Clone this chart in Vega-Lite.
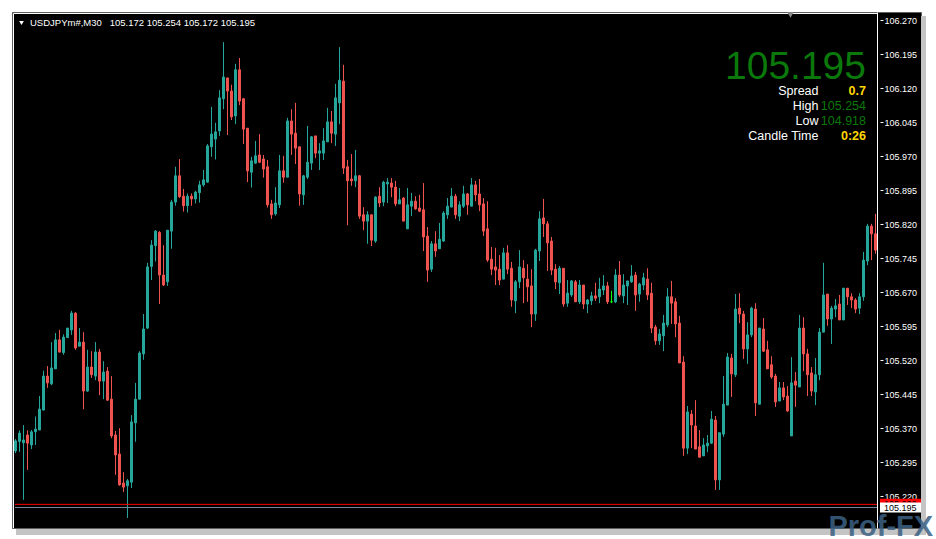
{
  "$schema": "https://vega.github.io/schema/vega-lite/v6.json",
  "width": 909,
  "height": 516,
  "autosize": "none",
  "padding": {"left": 12, "top": 12, "right": 15, "bottom": 11},
  "background": "#ffffff",
  "config": {
    "view": {"fill": "#000000", "stroke": "#5e5e5e", "strokeWidth": 1},
    "font": "Liberation Sans",
    "scale": {"continuousPadding": 0}
  },
  "resolve": {"axis": {"y": "independent", "x": "independent"}},
  "datasets": {
    "candles": [
      {"i":0,"o":105.320,"h":105.346,"l":105.315,"c":105.342},
      {"i":1,"o":105.341,"h":105.365,"l":105.318,"c":105.359},
      {"i":2,"o":105.338,"h":105.377,"l":105.212,"c":105.344},
      {"i":3,"o":105.355,"h":105.365,"l":105.278,"c":105.337},
      {"i":4,"o":105.333,"h":105.366,"l":105.324,"c":105.362},
      {"i":5,"o":105.362,"h":105.396,"l":105.333,"c":105.368},
      {"i":6,"o":105.366,"h":105.441,"l":105.366,"c":105.412},
      {"i":7,"o":105.410,"h":105.497,"l":105.410,"c":105.485},
      {"i":8,"o":105.485,"h":105.507,"l":105.459,"c":105.470},
      {"i":9,"o":105.468,"h":105.560,"l":105.465,"c":105.503},
      {"i":10,"o":105.501,"h":105.580,"l":105.501,"c":105.565},
      {"i":11,"o":105.565,"h":105.587,"l":105.538,"c":105.538},
      {"i":12,"o":105.537,"h":105.577,"l":105.532,"c":105.571},
      {"i":13,"o":105.570,"h":105.591,"l":105.570,"c":105.591},
      {"i":14,"o":105.587,"h":105.629,"l":105.576,"c":105.624},
      {"i":15,"o":105.624,"h":105.626,"l":105.543,"c":105.547},
      {"i":16,"o":105.551,"h":105.591,"l":105.551,"c":105.560},
      {"i":17,"o":105.560,"h":105.582,"l":105.412,"c":105.452},
      {"i":18,"o":105.452,"h":105.543,"l":105.450,"c":105.505},
      {"i":19,"o":105.505,"h":105.540,"l":105.481,"c":105.488},
      {"i":20,"o":105.485,"h":105.560,"l":105.476,"c":105.538},
      {"i":21,"o":105.538,"h":105.545,"l":105.443,"c":105.474},
      {"i":22,"o":105.474,"h":105.518,"l":105.434,"c":105.494},
      {"i":23,"o":105.496,"h":105.505,"l":105.430,"c":105.432},
      {"i":24,"o":105.434,"h":105.485,"l":105.348,"c":105.353},
      {"i":25,"o":105.355,"h":105.364,"l":105.267,"c":105.311},
      {"i":26,"o":105.313,"h":105.370,"l":105.243,"c":105.245},
      {"i":27,"o":105.249,"h":105.273,"l":105.229,"c":105.240},
      {"i":28,"o":105.243,"h":105.258,"l":105.172,"c":105.254},
      {"i":29,"o":105.251,"h":105.399,"l":105.238,"c":105.384},
      {"i":30,"o":105.382,"h":105.470,"l":105.340,"c":105.434},
      {"i":31,"o":105.434,"h":105.540,"l":105.434,"c":105.536},
      {"i":32,"o":105.534,"h":105.622,"l":105.521,"c":105.589},
      {"i":33,"o":105.591,"h":105.735,"l":105.589,"c":105.726},
      {"i":34,"o":105.727,"h":105.785,"l":105.697,"c":105.774},
      {"i":35,"o":105.773,"h":105.807,"l":105.738,"c":105.805},
      {"i":36,"o":105.802,"h":105.805,"l":105.644,"c":105.708},
      {"i":37,"o":105.708,"h":105.774,"l":105.684,"c":105.686},
      {"i":38,"o":105.693,"h":105.807,"l":105.684,"c":105.807},
      {"i":39,"o":105.805,"h":105.874,"l":105.766,"c":105.869},
      {"i":40,"o":105.869,"h":105.947,"l":105.861,"c":105.927},
      {"i":41,"o":105.927,"h":105.964,"l":105.878,"c":105.881},
      {"i":42,"o":105.882,"h":105.898,"l":105.848,"c":105.861},
      {"i":43,"o":105.861,"h":105.888,"l":105.846,"c":105.882},
      {"i":44,"o":105.882,"h":105.888,"l":105.861,"c":105.876},
      {"i":45,"o":105.876,"h":105.894,"l":105.866,"c":105.891},
      {"i":46,"o":105.890,"h":105.916,"l":105.868,"c":105.907},
      {"i":47,"o":105.907,"h":105.940,"l":105.903,"c":105.918},
      {"i":48,"o":105.913,"h":105.997,"l":105.912,"c":105.993},
      {"i":49,"o":105.991,"h":106.079,"l":105.969,"c":106.019},
      {"i":50,"o":106.008,"h":106.044,"l":105.963,"c":106.024},
      {"i":51,"o":106.026,"h":106.116,"l":106.015,"c":106.099},
      {"i":52,"o":106.097,"h":106.222,"l":106.074,"c":106.145},
      {"i":53,"o":106.143,"h":106.143,"l":106.017,"c":106.114},
      {"i":54,"o":106.114,"h":106.128,"l":106.050,"c":106.057},
      {"i":55,"o":106.059,"h":106.174,"l":106.041,"c":106.161},
      {"i":56,"o":106.161,"h":106.187,"l":106.083,"c":106.092},
      {"i":57,"o":106.097,"h":106.099,"l":105.997,"c":106.030},
      {"i":58,"o":106.032,"h":106.032,"l":105.913,"c":105.938},
      {"i":59,"o":105.935,"h":105.969,"l":105.901,"c":105.960},
      {"i":60,"o":105.955,"h":106.004,"l":105.953,"c":105.971},
      {"i":61,"o":105.973,"h":106.019,"l":105.955,"c":105.957},
      {"i":62,"o":105.964,"h":105.973,"l":105.923,"c":105.942},
      {"i":63,"o":105.947,"h":105.962,"l":105.857,"c":105.863},
      {"i":64,"o":105.865,"h":105.874,"l":105.832,"c":105.841},
      {"i":65,"o":105.843,"h":105.902,"l":105.839,"c":105.867},
      {"i":66,"o":105.863,"h":105.973,"l":105.856,"c":105.938},
      {"i":67,"o":105.938,"h":105.971,"l":105.912,"c":105.924},
      {"i":68,"o":105.924,"h":106.055,"l":105.924,"c":106.048},
      {"i":69,"o":106.048,"h":106.074,"l":105.973,"c":106.019},
      {"i":70,"o":106.021,"h":106.088,"l":105.953,"c":105.988},
      {"i":71,"o":105.991,"h":105.991,"l":105.861,"c":105.887},
      {"i":72,"o":105.885,"h":105.929,"l":105.863,"c":105.927},
      {"i":73,"o":105.924,"h":106.037,"l":105.920,"c":105.957},
      {"i":74,"o":105.955,"h":106.015,"l":105.940,"c":106.013},
      {"i":75,"o":106.015,"h":106.015,"l":105.966,"c":105.977},
      {"i":76,"o":105.977,"h":105.999,"l":105.940,"c":105.982},
      {"i":77,"o":105.977,"h":106.032,"l":105.962,"c":106.004},
      {"i":78,"o":106.002,"h":106.077,"l":106.002,"c":106.046},
      {"i":79,"o":106.046,"h":106.070,"l":105.999,"c":106.021},
      {"i":80,"o":106.019,"h":106.130,"l":105.993,"c":106.099},
      {"i":81,"o":106.088,"h":106.211,"l":106.041,"c":106.138},
      {"i":82,"o":106.136,"h":106.172,"l":105.931,"c":105.944},
      {"i":83,"o":105.947,"h":105.962,"l":105.818,"c":105.916},
      {"i":84,"o":105.920,"h":105.975,"l":105.905,"c":105.916},
      {"i":85,"o":105.916,"h":105.984,"l":105.902,"c":105.927},
      {"i":86,"o":105.927,"h":105.929,"l":105.832,"c":105.838},
      {"i":87,"o":105.841,"h":105.858,"l":105.807,"c":105.827},
      {"i":88,"o":105.827,"h":105.849,"l":105.777,"c":105.841},
      {"i":89,"o":105.841,"h":105.841,"l":105.772,"c":105.785},
      {"i":90,"o":105.783,"h":105.882,"l":105.779,"c":105.880},
      {"i":91,"o":105.882,"h":105.902,"l":105.858,"c":105.867},
      {"i":92,"o":105.869,"h":105.916,"l":105.860,"c":105.913},
      {"i":93,"o":105.909,"h":105.922,"l":105.867,"c":105.913},
      {"i":94,"o":105.911,"h":105.922,"l":105.880,"c":105.902},
      {"i":95,"o":105.902,"h":105.916,"l":105.860,"c":105.865},
      {"i":96,"o":105.865,"h":105.900,"l":105.865,"c":105.874},
      {"i":97,"o":105.878,"h":105.880,"l":105.827,"c":105.827},
      {"i":98,"o":105.810,"h":105.900,"l":105.810,"c":105.863},
      {"i":99,"o":105.860,"h":105.889,"l":105.838,"c":105.871},
      {"i":100,"o":105.871,"h":105.882,"l":105.852,"c":105.854},
      {"i":101,"o":105.856,"h":105.885,"l":105.847,"c":105.849},
      {"i":102,"o":105.852,"h":105.911,"l":105.761,"c":105.792},
      {"i":103,"o":105.794,"h":105.814,"l":105.693,"c":105.719},
      {"i":104,"o":105.721,"h":105.783,"l":105.715,"c":105.777},
      {"i":105,"o":105.777,"h":105.805,"l":105.748,"c":105.761},
      {"i":106,"o":105.766,"h":105.823,"l":105.766,"c":105.787},
      {"i":107,"o":105.783,"h":105.849,"l":105.781,"c":105.845},
      {"i":108,"o":105.841,"h":105.878,"l":105.832,"c":105.860},
      {"i":109,"o":105.858,"h":105.900,"l":105.858,"c":105.882},
      {"i":110,"o":105.882,"h":105.887,"l":105.832,"c":105.841},
      {"i":111,"o":105.838,"h":105.871,"l":105.827,"c":105.863},
      {"i":112,"o":105.860,"h":105.905,"l":105.856,"c":105.887},
      {"i":113,"o":105.887,"h":105.889,"l":105.841,"c":105.863},
      {"i":114,"o":105.860,"h":105.922,"l":105.860,"c":105.907},
      {"i":115,"o":105.907,"h":105.916,"l":105.871,"c":105.885},
      {"i":116,"o":105.887,"h":105.920,"l":105.849,"c":105.863},
      {"i":117,"o":105.865,"h":105.878,"l":105.794,"c":105.805},
      {"i":118,"o":105.810,"h":105.871,"l":105.737,"c":105.741},
      {"i":119,"o":105.743,"h":105.770,"l":105.708,"c":105.721},
      {"i":120,"o":105.726,"h":105.768,"l":105.686,"c":105.719},
      {"i":121,"o":105.721,"h":105.752,"l":105.686,"c":105.697},
      {"i":122,"o":105.699,"h":105.768,"l":105.699,"c":105.757},
      {"i":123,"o":105.757,"h":105.774,"l":105.710,"c":105.721},
      {"i":124,"o":105.723,"h":105.737,"l":105.638,"c":105.653},
      {"i":125,"o":105.651,"h":105.697,"l":105.624,"c":105.693},
      {"i":126,"o":105.693,"h":105.763,"l":105.679,"c":105.726},
      {"i":127,"o":105.723,"h":105.741,"l":105.646,"c":105.702},
      {"i":128,"o":105.699,"h":105.732,"l":105.649,"c":105.682},
      {"i":129,"o":105.684,"h":105.721,"l":105.593,"c":105.622},
      {"i":130,"o":105.622,"h":105.766,"l":105.607,"c":105.763},
      {"i":131,"o":105.761,"h":105.849,"l":105.739,"c":105.832},
      {"i":132,"o":105.834,"h":105.876,"l":105.792,"c":105.821},
      {"i":133,"o":105.821,"h":105.827,"l":105.717,"c":105.779},
      {"i":134,"o":105.783,"h":105.792,"l":105.708,"c":105.719},
      {"i":135,"o":105.721,"h":105.732,"l":105.677,"c":105.693},
      {"i":136,"o":105.691,"h":105.728,"l":105.666,"c":105.723},
      {"i":137,"o":105.723,"h":105.723,"l":105.638,"c":105.644},
      {"i":138,"o":105.646,"h":105.697,"l":105.638,"c":105.668},
      {"i":139,"o":105.664,"h":105.697,"l":105.660,"c":105.695},
      {"i":140,"o":105.693,"h":105.697,"l":105.649,"c":105.649},
      {"i":141,"o":105.649,"h":105.697,"l":105.644,"c":105.686},
      {"i":142,"o":105.686,"h":105.686,"l":105.633,"c":105.644},
      {"i":143,"o":105.644,"h":105.655,"l":105.624,"c":105.653},
      {"i":144,"o":105.651,"h":105.671,"l":105.642,"c":105.662},
      {"i":145,"o":105.662,"h":105.691,"l":105.651,"c":105.657},
      {"i":146,"o":105.660,"h":105.702,"l":105.646,"c":105.677},
      {"i":147,"o":105.675,"h":105.708,"l":105.664,"c":105.684},
      {"i":148,"o":105.684,"h":105.693,"l":105.644,"c":105.649},
      {"i":149,"o":105.649,"h":105.673,"l":105.646,"c":105.649},
      {"i":150,"o":105.649,"h":105.721,"l":105.646,"c":105.708},
      {"i":151,"o":105.708,"h":105.739,"l":105.660,"c":105.664},
      {"i":152,"o":105.662,"h":105.710,"l":105.646,"c":105.686},
      {"i":153,"o":105.684,"h":105.695,"l":105.642,"c":105.695},
      {"i":154,"o":105.693,"h":105.730,"l":105.691,"c":105.706},
      {"i":155,"o":105.708,"h":105.715,"l":105.629,"c":105.664},
      {"i":156,"o":105.666,"h":105.691,"l":105.649,"c":105.688},
      {"i":157,"o":105.686,"h":105.713,"l":105.675,"c":105.702},
      {"i":158,"o":105.699,"h":105.723,"l":105.653,"c":105.664},
      {"i":159,"o":105.668,"h":105.691,"l":105.580,"c":105.591},
      {"i":160,"o":105.593,"h":105.598,"l":105.554,"c":105.563},
      {"i":161,"o":105.563,"h":105.589,"l":105.554,"c":105.578},
      {"i":162,"o":105.574,"h":105.620,"l":105.540,"c":105.602},
      {"i":163,"o":105.598,"h":105.679,"l":105.593,"c":105.660},
      {"i":164,"o":105.660,"h":105.695,"l":105.600,"c":105.646},
      {"i":165,"o":105.649,"h":105.657,"l":105.571,"c":105.600},
      {"i":166,"o":105.602,"h":105.618,"l":105.514,"c":105.514},
      {"i":167,"o":105.516,"h":105.529,"l":105.309,"c":105.326},
      {"i":168,"o":105.326,"h":105.419,"l":105.313,"c":105.406},
      {"i":169,"o":105.401,"h":105.410,"l":105.326,"c":105.377},
      {"i":170,"o":105.375,"h":105.432,"l":105.324,"c":105.324},
      {"i":171,"o":105.329,"h":105.366,"l":105.306,"c":105.306},
      {"i":172,"o":105.309,"h":105.348,"l":105.309,"c":105.333},
      {"i":173,"o":105.331,"h":105.355,"l":105.317,"c":105.337},
      {"i":174,"o":105.337,"h":105.408,"l":105.335,"c":105.390},
      {"i":175,"o":105.388,"h":105.397,"l":105.234,"c":105.256},
      {"i":176,"o":105.256,"h":105.360,"l":105.234,"c":105.360},
      {"i":177,"o":105.357,"h":105.485,"l":105.351,"c":105.423},
      {"i":178,"o":105.421,"h":105.536,"l":105.421,"c":105.527},
      {"i":179,"o":105.525,"h":105.534,"l":105.439,"c":105.490},
      {"i":180,"o":105.488,"h":105.666,"l":105.483,"c":105.633},
      {"i":181,"o":105.635,"h":105.668,"l":105.602,"c":105.622},
      {"i":182,"o":105.622,"h":105.629,"l":105.523,"c":105.545},
      {"i":183,"o":105.545,"h":105.604,"l":105.512,"c":105.576},
      {"i":184,"o":105.576,"h":105.638,"l":105.571,"c":105.635},
      {"i":185,"o":105.633,"h":105.646,"l":105.397,"c":105.426},
      {"i":186,"o":105.423,"h":105.591,"l":105.423,"c":105.591},
      {"i":187,"o":105.589,"h":105.613,"l":105.538,"c":105.540},
      {"i":188,"o":105.543,"h":105.563,"l":105.501,"c":105.501},
      {"i":189,"o":105.510,"h":105.529,"l":105.479,"c":105.483},
      {"i":190,"o":105.485,"h":105.490,"l":105.417,"c":105.428},
      {"i":191,"o":105.430,"h":105.472,"l":105.430,"c":105.459},
      {"i":192,"o":105.459,"h":105.472,"l":105.432,"c":105.439},
      {"i":193,"o":105.441,"h":105.463,"l":105.406,"c":105.408},
      {"i":194,"o":105.353,"h":105.527,"l":105.353,"c":105.470},
      {"i":195,"o":105.474,"h":105.494,"l":105.417,"c":105.465},
      {"i":196,"o":105.461,"h":105.620,"l":105.461,"c":105.591},
      {"i":197,"o":105.591,"h":105.615,"l":105.496,"c":105.534},
      {"i":198,"o":105.534,"h":105.545,"l":105.441,"c":105.488},
      {"i":199,"o":105.492,"h":105.505,"l":105.441,"c":105.452},
      {"i":200,"o":105.450,"h":105.525,"l":105.421,"c":105.488},
      {"i":201,"o":105.488,"h":105.591,"l":105.476,"c":105.582},
      {"i":202,"o":105.582,"h":105.735,"l":105.582,"c":105.664},
      {"i":203,"o":105.666,"h":105.666,"l":105.596,"c":105.611},
      {"i":204,"o":105.611,"h":105.640,"l":105.556,"c":105.635},
      {"i":205,"o":105.633,"h":105.655,"l":105.615,"c":105.640},
      {"i":206,"o":105.644,"h":105.664,"l":105.609,"c":105.609},
      {"i":207,"o":105.609,"h":105.679,"l":105.609,"c":105.679},
      {"i":208,"o":105.679,"h":105.679,"l":105.642,"c":105.660},
      {"i":209,"o":105.660,"h":105.668,"l":105.635,"c":105.653},
      {"i":210,"o":105.653,"h":105.657,"l":105.624,"c":105.633},
      {"i":211,"o":105.635,"h":105.668,"l":105.622,"c":105.660},
      {"i":212,"o":105.660,"h":105.759,"l":105.651,"c":105.741},
      {"i":213,"o":105.739,"h":105.821,"l":105.730,"c":105.816},
      {"i":214,"o":105.816,"h":105.821,"l":105.741,"c":105.799},
      {"i":215,"o":105.799,"h":105.843,"l":105.755,"c":105.763}
    ],
    "levels": [
      {"price": 105.202, "label": "105.202", "kind": "ask"},
      {"price": 105.195, "label": "105.195", "kind": "bid"}
    ]
  },
  "layer": [
    {
      "data": {"values": [{}]},
      "mark": {"type": "rule", "strokeWidth": 6, "color": "#c4c4c4", "strokeCap": "butt"},
      "encoding": {
        "x": {"datum": 0.125, "type": "quantitative", "scale": {"domain": [-0.875, 226.375], "nice": false, "zero": false, "padding": 0}, "axis": null},
        "x2": {"datum": 227.0},
        "y": {"datum": 105.1410, "type": "quantitative", "scale": {"domain": [105.1498, 106.2885], "nice": false, "zero": false, "padding": 0}, "axis": null}
      }
    },
    {
      "data": {"values": [{}]},
      "mark": {"type": "rule", "strokeWidth": 5, "color": "#c4c4c4", "strokeCap": "butt"},
      "encoding": {
        "x": {"datum": 227.0, "type": "quantitative", "axis": null},
        "y": {"datum": 106.2797, "type": "quantitative", "axis": null},
        "y2": {"datum": 105.1343}
      }
    },
    {
      "data": {"name": "candles"},
      "mark": {"type": "rule", "strokeWidth": 1},
      "encoding": {
        "x": {"field": "i", "type": "quantitative", "axis": null},
        "y": {"field": "l", "type": "quantitative",
              "axis": {"orient": "right", "offset": -44, "domain": true, "domainColor": "#ffffff", "domainWidth": 1, "ticks": false, "labels": false, "grid": false, "title": null}},
        "y2": {"field": "h"},
        "color": {"condition": [{"test": "datum.c > datum.o", "value": "#26a69a"}, {"test": "datum.c == datum.o", "value": "#00ff00"}], "value": "#ef5350"}
      }
    },
    {
      "data": {"name": "candles"},
      "mark": {"type": "bar", "size": 2, "strokeWidth": 1},
      "encoding": {
        "x": {"field": "i", "type": "quantitative", "axis": null},
        "y": {"field": "o", "type": "quantitative",
              "axis": {"orient": "right", "offset": -41, "domain": false, "ticks": true, "tickSize": 3, "tickColor": "#ffffff", "tickWidth": 1,
                       "labels": true, "labelColor": "#ffffff", "labelFont": "Liberation Sans", "labelFontSize": 9, "labelPadding": 1,
                       "labelFlush": false, "labelOverlap": false, "grid": false, "title": null, "format": ".3f",
                       "values": [105.220, 105.295, 105.370, 105.445, 105.520, 105.595, 105.670, 105.745, 105.820, 105.895, 105.970, 106.045, 106.120, 106.195, 106.270]}},
        "y2": {"field": "c"},
        "fill": {"condition": [{"test": "datum.c > datum.o", "value": "#26a69a"}, {"test": "datum.c == datum.o", "value": "#00ff00"}], "value": "#ef5350"},
        "stroke": {"condition": [{"test": "datum.c > datum.o", "value": "#26a69a"}, {"test": "datum.c == datum.o", "value": "#00ff00"}], "value": "#ef5350"}
      }
    },
    {
      "data": {"name": "levels"},
      "mark": {"type": "rule", "strokeWidth": 1},
      "encoding": {
        "x": {"datum": -0.125, "type": "quantitative", "axis": null},
        "x2": {"datum": 215.375},
        "y": {"field": "price", "type": "quantitative", "axis": null},
        "color": {"field": "kind", "type": "nominal", "scale": {"domain": ["ask", "bid"], "range": ["#ff0000", "#778899"]}, "legend": null}
      }
    },
    {
      "data": {"name": "levels"},
      "transform": [{"filter": "datum.kind == 'ask'"}],
      "mark": {"type": "tick", "orient": "horizontal", "size": 41, "thickness": 11, "color": "#ff0000", "opacity": 1},
      "encoding": {
        "x": {"datum": 221.25, "type": "quantitative", "axis": null},
        "y": {"field": "price", "type": "quantitative", "axis": null}
      }
    },
    {
      "data": {"name": "levels"},
      "transform": [{"filter": "datum.kind == 'ask'"}],
      "mark": {"type": "text", "align": "left", "baseline": "middle", "font": "Liberation Sans", "fontSize": 9, "color": "#000000"},
      "encoding": {
        "x": {"datum": 217.125, "type": "quantitative", "axis": null},
        "y": {"field": "price", "type": "quantitative", "axis": null},
        "text": {"field": "label"}
      }
    },
    {
      "data": {"name": "levels"},
      "transform": [{"filter": "datum.kind == 'bid'"}],
      "mark": {"type": "tick", "orient": "horizontal", "size": 41, "thickness": 10, "color": "#ffffff", "opacity": 1},
      "encoding": {
        "x": {"datum": 221.25, "type": "quantitative", "axis": null},
        "y": {"field": "price", "type": "quantitative", "axis": null}
      }
    },
    {
      "data": {"name": "levels"},
      "transform": [{"filter": "datum.kind == 'bid'"}],
      "mark": {"type": "text", "align": "left", "baseline": "middle", "font": "Liberation Sans", "fontSize": 9, "color": "#000000"},
      "encoding": {
        "x": {"datum": 217.125, "type": "quantitative", "axis": null},
        "y": {"field": "price", "type": "quantitative", "axis": null},
        "text": {"field": "label"}
      }
    },
    {
      "data": {"values": [{}]},
      "mark": {"type": "rule", "strokeWidth": 1, "color": "#ffffff"},
      "encoding": {
        "x": {"datum": -0.5, "type": "quantitative", "axis": null},
        "x2": {"datum": 215.375},
        "y": {"datum": 106.2852, "type": "quantitative", "axis": null}
      }
    },
    {
      "data": {"values": [{}]},
      "mark": {"type": "rule", "strokeWidth": 1, "color": "#ffffff"},
      "encoding": {
        "x": {"datum": -0.5, "type": "quantitative", "axis": null},
        "y": {"datum": 106.2852, "type": "quantitative", "axis": null},
        "y2": {"datum": 105.1498}
      }
    },
    {
      "data": {"values": [{}]},
      "mark": {"type": "point", "shape": "triangle-down", "filled": true, "size": 22, "color": "#ffffff", "opacity": 1},
      "encoding": {
        "x": {"datum": 1.5, "type": "quantitative", "axis": null},
        "y": {"datum": 106.2642, "type": "quantitative", "axis": null}
      }
    },
    {
      "data": {"values": [{}]},
      "mark": {"type": "text", "align": "left", "baseline": "alphabetic", "font": "Liberation Sans", "fontSize": 9.5, "color": "#ffffff"},
      "encoding": {
        "x": {"datum": 3.625, "type": "quantitative", "axis": null},
        "y": {"datum": 106.2576, "type": "quantitative", "axis": null},
        "text": {"value": "USDJPYm#,M30\u00a0\u00a0 105.172 105.254 105.172 105.195"}
      }
    },
    {
      "data": {"values": [{}]},
      "mark": {"type": "point", "shape": "triangle-down", "filled": true, "size": 40, "color": "#8a8a8a", "opacity": 1},
      "encoding": {
        "x": {"datum": 193.75, "type": "quantitative", "axis": null},
        "y": {"datum": 106.2819, "type": "quantitative", "axis": null}
      }
    },
    {
      "data": {"values": [{}]},
      "mark": {"type": "text", "align": "right", "baseline": "alphabetic", "font": "Liberation Sans", "fontSize": 39, "color": "#0b780b"},
      "encoding": {
        "x": {"datum": 212.625, "type": "quantitative", "axis": null},
        "y": {"datum": 106.140, "type": "quantitative", "axis": null},
        "text": {"value": "105.195"}
      }
    },
    {
      "data": {"values": [{}]},
      "mark": {"type": "text", "align": "right", "baseline": "alphabetic", "font": "Liberation Sans", "fontSize": 12.5, "color": "#ffffff"},
      "encoding": {
        "x": {"datum": 200.75, "type": "quantitative", "axis": null},
        "y": {"datum": 106.1054, "type": "quantitative", "axis": null},
        "text": {"value": "Spread"}
      }
    },
    {
      "data": {"values": [{}]},
      "mark": {"type": "text", "align": "right", "baseline": "alphabetic", "font": "Liberation Sans", "fontSize": 12.5, "color": "#ffffff"},
      "encoding": {
        "x": {"datum": 200.75, "type": "quantitative", "axis": null},
        "y": {"datum": 106.0723, "type": "quantitative", "axis": null},
        "text": {"value": "High"}
      }
    },
    {
      "data": {"values": [{}]},
      "mark": {"type": "text", "align": "right", "baseline": "alphabetic", "font": "Liberation Sans", "fontSize": 12.5, "color": "#ffffff"},
      "encoding": {
        "x": {"datum": 200.75, "type": "quantitative", "axis": null},
        "y": {"datum": 106.0398, "type": "quantitative", "axis": null},
        "text": {"value": "Low"}
      }
    },
    {
      "data": {"values": [{}]},
      "mark": {"type": "text", "align": "right", "baseline": "alphabetic", "font": "Liberation Sans", "fontSize": 12.5, "color": "#ffffff"},
      "encoding": {
        "x": {"datum": 200.75, "type": "quantitative", "axis": null},
        "y": {"datum": 106.0061, "type": "quantitative", "axis": null},
        "text": {"value": "Candle Time"}
      }
    },
    {
      "data": {"values": [{}]},
      "mark": {"type": "text", "align": "right", "baseline": "alphabetic", "font": "Liberation Sans", "fontSize": 12.5, "fontWeight": "bold", "color": "#ffd700"},
      "encoding": {
        "x": {"datum": 212.625, "type": "quantitative", "axis": null},
        "y": {"datum": 106.1054, "type": "quantitative", "axis": null},
        "text": {"value": "0.7"}
      }
    },
    {
      "data": {"values": [{}]},
      "mark": {"type": "text", "align": "right", "baseline": "alphabetic", "font": "Liberation Sans", "fontSize": 12.5, "color": "#0b780b"},
      "encoding": {
        "x": {"datum": 212.625, "type": "quantitative", "axis": null},
        "y": {"datum": 106.0723, "type": "quantitative", "axis": null},
        "text": {"value": "105.254"}
      }
    },
    {
      "data": {"values": [{}]},
      "mark": {"type": "text", "align": "right", "baseline": "alphabetic", "font": "Liberation Sans", "fontSize": 12.5, "color": "#0b780b"},
      "encoding": {
        "x": {"datum": 212.625, "type": "quantitative", "axis": null},
        "y": {"datum": 106.0398, "type": "quantitative", "axis": null},
        "text": {"value": "104.918"}
      }
    },
    {
      "data": {"values": [{}]},
      "mark": {"type": "text", "align": "right", "baseline": "alphabetic", "font": "Liberation Sans", "fontSize": 12.5, "fontWeight": "bold", "color": "#ffd700"},
      "encoding": {
        "x": {"datum": 212.625, "type": "quantitative", "axis": null},
        "y": {"datum": 106.0061, "type": "quantitative", "axis": null},
        "text": {"value": "0:26"}
      }
    },
    {
      "data": {"values": [{}]},
      "mark": {"type": "text", "align": "right", "baseline": "alphabetic", "font": "Liberation Sans", "fontSize": 29, "fontWeight": "bold", "color": "#3b6184", "opacity": 0.85},
      "encoding": {
        "x": {"datum": 229.4, "type": "quantitative", "axis": null},
        "y": {"datum": 105.1320, "type": "quantitative", "axis": null},
        "text": {"value": "Prof-FX"}
      }
    }
  ]
}
